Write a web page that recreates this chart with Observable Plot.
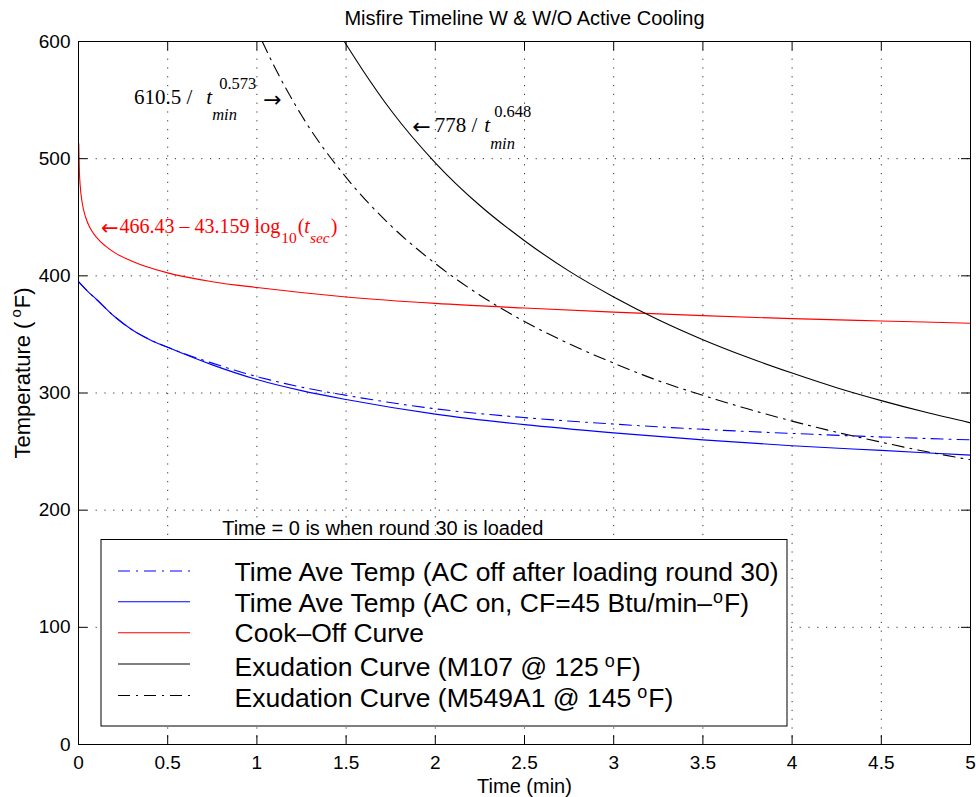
<!DOCTYPE html>
<html><head><meta charset="utf-8">
<script src="https://cdn.jsdelivr.net/npm/d3@7"></script>
<script src="https://cdn.jsdelivr.net/npm/@observablehq/plot@0.6"></script>
<style>body{margin:0;background:#fff}</style>
</head><body><div id="chart"></div>
<script>
// ---- data ----
const xTicks = [0, 0.5, 1, 1.5, 2, 2.5, 3, 3.5, 4, 4.5, 5];
const yTicks = [0, 100, 200, 300, 400, 500, 600];

const aveTime      = [0, 0.05, 0.1, 0.2, 0.3, 0.4, 0.5, 0.75, 1, 1.25, 1.5, 2, 2.5, 3, 3.5, 4, 4.5, 5];
const aveTempAcOff = [395, 387, 380, 365.5, 354, 345.5, 339, 325.5, 314, 305, 298, 286.5, 279, 273.5, 269, 265.5, 262.5, 260];
const aveTempAcOn  = [395, 387, 380, 365.5, 354, 345.5, 339, 324, 311.5, 302, 294.5, 282, 273, 266, 260, 255, 251, 247];

const cookOffTime = [0.0014, 0.005, 0.01, 0.02, 0.04, 0.07, 0.1, 0.15, 0.2, 0.3, 0.5, 0.75, 1, 1.5, 2, 2.5, 3, 3.5, 4, 4.5, 5];
const cookOffTemp = [513, 489, 476, 463, 450, 439.5, 433, 425.5, 420, 412.5, 402.5, 395, 390, 382, 376.5, 372.5, 369, 366, 363.5, 361.5, 359.5];

const m107Time = [1.49, 1.6, 1.75, 2, 2.25, 2.5, 2.75, 3, 3.25, 3.5, 3.75, 4, 4.25, 4.5, 4.75, 5];
const m107Temp = [600, 574, 541.5, 496.5, 460, 430, 404, 382, 362.5, 345.5, 330.5, 317, 304.5, 293.5, 283.5, 274.5];

const m549Time = [1.03, 1.1, 1.25, 1.5, 1.75, 2, 2.25, 2.5, 2.75, 3, 3.25, 3.5, 3.75, 4, 4.25, 4.5, 4.75, 5];
const m549Temp = [600, 578, 537, 484, 443, 410.5, 383.5, 361, 342, 325.5, 310.5, 298, 286.5, 276, 266.5, 258, 250, 243];

const titleText = "Misfire Timeline W & W/O Active Cooling";
const xLabel = "Time (min)";
const yLabel = ["Temperature (", "o", "F)"];
const noteText = "Time = 0 is when round 30 is loaded";
const legendLabels = [
  ["Time Ave Temp (AC off after loading round 30)"],
  ["Time Ave Temp (AC on, CF=45 Btu/min\u2013", "o", "F)"],
  ["Cook\u2013Off Curve"],
  ["Exudation Curve (M107 @ 125", "o", "F)"],
  ["Exudation Curve (M549A1 @ 145", "o", "F)"]
];

// ---- layout / style ----
const W = 976, H = 797, mL = 78, mR = 6, mT = 41, mB = 53;
const innerW = W - mL - mR, innerH = H - mT - mB;
const tickLen = 9;
const dashDot = "12,6,2,6";
const sans = "'Liberation Sans', Arial, Helvetica, sans-serif";
const serif = "'Liberation Serif', 'Times New Roman', 'DejaVu Serif', serif";
const arrowFont = "'DejaVu Sans', sans-serif";
const BLUE = "#0000ff", RED = "#ff0000", BLACK = "#000000";

const rows = (xs, ys) => xs.map((x, i) => ({x, y: ys[i]}));
const lineOpts = (stroke, dash) => ({x: "x", y: "y", stroke, strokeWidth: 1.1, strokeDasharray: dash, curve: "monotone-x"});

const plot = Plot.plot({
  width: W, height: H,
  marginLeft: mL, marginRight: mR, marginTop: mT, marginBottom: mB,
  style: {fontFamily: sans, fontSize: "19px", background: "white", color: "black", overflow: "visible"},
  x: {domain: [0, 5]},
  y: {domain: [0, 600]},
  marks: [
    Plot.gridX(xTicks, {stroke: "#333", strokeOpacity: 1, strokeDasharray: "1.2,7.6"}),
    Plot.gridY(yTicks, {stroke: "#333", strokeOpacity: 1, strokeDasharray: "1.2,7.6"}),
    Plot.line(rows(aveTime, aveTempAcOff), lineOpts(BLUE, dashDot)),
    Plot.line(rows(aveTime, aveTempAcOn), lineOpts(BLUE, null)),
    Plot.line(rows(cookOffTime, cookOffTemp), lineOpts(RED, null)),
    Plot.line(rows(m107Time, m107Temp), lineOpts(BLACK, null)),
    Plot.line(rows(m549Time, m549Temp), lineOpts(BLACK, dashDot)),
    Plot.frame({stroke: "black", strokeWidth: 1}),
    Plot.tickX(xTicks, {x: d => d, insetTop: innerH - tickLen, stroke: "black"}),
    Plot.tickX(xTicks, {x: d => d, insetBottom: innerH - tickLen, stroke: "black"}),
    Plot.tickY(yTicks, {y: d => d, insetRight: innerW - tickLen, stroke: "black"}),
    Plot.tickY(yTicks, {y: d => d, insetLeft: innerW - tickLen, stroke: "black"}),
    Plot.axisX(xTicks, {tickSize: 0, tickPadding: 11, label: null, fontSize: 19, tickFormat: d => String(d)}),
    Plot.axisY(yTicks, {tickSize: 0, tickPadding: 8, label: null, fontSize: 19, tickFormat: d => String(d)}),
    Plot.text([titleText], {text: d => d, frameAnchor: "top", dy: -23, fontSize: 20, lineAnchor: "middle"}),
    Plot.text([xLabel], {text: d => d, frameAnchor: "bottom", dy: 41.6, fontSize: 20, lineAnchor: "middle"}),
    Plot.text([noteText], {text: d => d, x: 0.8055, y: 184.4, textAnchor: "start", fontSize: 20, lineAnchor: "middle"})
  ]
});
document.getElementById("chart").appendChild(plot);

const sx = plot.scale("x"), sy = plot.scale("y");
const svg = d3.select(plot);

// rich text helper: pieces drawn sequentially, measured in the browser
function rich(parent, x, y, pieces, base) {
  const g = parent.append("g");
  let cx = x, stackEnd = -Infinity;
  for (const p of pieces) {
    const el = g.append("text")
      .attr("x", cx + (p.dx || 0)).attr("y", y + (p.dy || 0))
      .attr("font-family", p.family || base.family)
      .attr("font-size", p.size || base.size)
      .attr("font-style", p.italic ? "italic" : "normal")
      .attr("fill", p.fill || base.fill || "black")
      .attr("text-anchor", "start")
      .text(p.t);
    const w = el.node().getComputedTextLength();
    const end = cx + (p.dx || 0) + w;
    if (p.stack) stackEnd = Math.max(stackEnd, end);
    else { cx = Math.max(end, stackEnd); stackEnd = -Infinity; }
  }
  return {g, width: cx - x};
}

// y-axis label (rotated, with superscript o)
{
  const g = svg.append("g").attr("transform", "translate(30,373) rotate(-90)");
  const r = rich(g, 0, 0, [
    {t: yLabel[0]},
    {t: yLabel[1], size: 15, dy: -9, dx: 4},
    {t: yLabel[2], dx: 1}
  ], {family: sans, size: 22});
  r.g.attr("transform", `translate(${-r.width / 2},0)`);
}

// legend
{
  const box = svg.append("g");
  box.append("rect").attr("x", 101).attr("y", 539.5).attr("width", 686).attr("height", 186.5)
    .attr("fill", "white").attr("stroke", "black").attr("stroke-width", 1);
  const styles = [[BLUE, dashDot], [BLUE, null], [RED, null], [BLACK, null], [BLACK, dashDot]];
  const lineY = [571, 601.7, 632.7, 664, 695.5];
  const baseY = [581.3, 612.3, 642, 675.5, 706.5];
  legendLabels.forEach((lab, i) => {
    box.append("line").attr("x1", 118).attr("x2", 190).attr("y1", lineY[i]).attr("y2", lineY[i])
      .attr("stroke", styles[i][0]).attr("stroke-width", 1.1)
      .attr("stroke-dasharray", styles[i][1]);
    const pieces = [{t: lab[0]}];
    if (lab.length > 1) {
      pieces.push({t: lab[1], size: 18, dy: -9, dx: i === 1 ? 1 : 6});
      pieces.push({t: lab[2], dx: 1});
    }
    rich(box, 234.6, baseY[i], pieces, {family: sans, size: 26.5});
  });
}

// formula annotations (serif, TeX-like)
rich(svg, sx.apply(0.314), sy.apply(546), [
  {t: "610.5 /"},
  {t: "t", italic: true, dx: 14},
  {t: "0.573", size: 16.5, dy: -15, dx: 7, stack: true},
  {t: "min", size: 16.5, dy: 16, italic: true},
  {t: "\u2192", dx: 7, family: arrowFont, size: 22, dy: 3}
], {family: serif, size: 21, fill: "black"});

rich(svg, sx.apply(1.874), sy.apply(522.1), [
  {t: "\u2190", family: arrowFont, size: 22, dy: 1.5},
  {t: "778 /", dx: 4},
  {t: "t", italic: true, dx: 7},
  {t: "0.648", size: 16.5, dy: -15, dx: 4, stack: true},
  {t: "min", size: 16.5, dy: 16.5, italic: true}
], {family: serif, size: 21, fill: "black"});

rich(svg, sx.apply(0.129), sy.apply(435.9), [
  {t: "\u2190", family: arrowFont, size: 21, dy: 1.5},
  {t: "466.43 \u2013 43.159 log", dx: 1},
  {t: "10", size: 15.5, dy: 9.5, dx: 1},
  {t: "(", dx: 1},
  {t: "t", italic: true},
  {t: "sec", size: 15.5, dy: 9.5, italic: true},
  {t: ")", dx: 1}
], {family: serif, size: 20, fill: RED});
</script>
</body></html>
